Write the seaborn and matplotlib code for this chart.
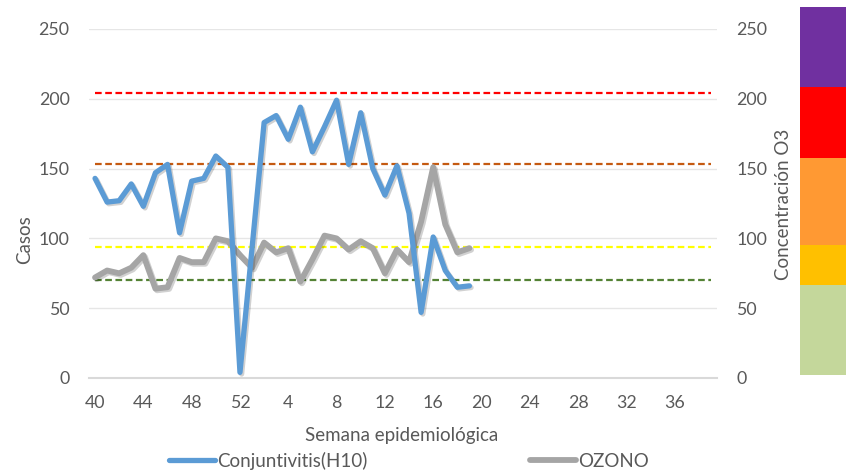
import matplotlib
matplotlib.use("Agg")
import matplotlib.pyplot as plt
import matplotlib.patheffects as pe
from matplotlib.lines import Line2D
import seaborn as sns
import pandas as pd
import numpy as np

# ---- data ----
weeks = list(range(40, 53)) + list(range(1, 40))
conjuntivitis = [143, 126, 127, 139, 123, 147, 153, 104, 141, 143, 159, 151, 4,
                 93, 183, 188, 171, 194, 162, 180, 199, 153, 190, 150, 131, 152,
                 118, 47, 101, 77, 65, 66]
ozono = [72, 77, 75, 79, 88, 64, 65, 86, 83, 83, 100, 98, 88,
         79, 97, 90, 93, 69, 85, 102, 100, 92, 98, 93, 75, 92, 83, 112,
         151, 110, 90, 93]
thresholds = [70, 94, 153, 204]
threshold_colors = ["#548235", "#FFFF00", "#C55A11", "#FF0000"]
band_bounds = [0, 65, 94, 157, 208, 266]
band_colors = ["#C4D79B", "#FFC000", "#FF9933", "#FF0000", "#7030A0"]

TXT = "#595959"
sns.set_theme(style="white")
plt.rcParams["font.family"] = ["Lato", "DejaVu Sans"]

W, H = 846, 476
fig = plt.figure(figsize=(W / 100, H / 100), dpi=100)
L, R, T, B = 89, 717, 29, 378
ax = fig.add_axes([L / W, 1 - B / H, (R - L) / W, (B - T) / H])

pos = list(range(len(weeks)))
df_c = pd.DataFrame({"pos": pos[:len(conjuntivitis)], "val": conjuntivitis})
df_o = pd.DataFrame({"pos": pos[:len(ozono)], "val": ozono})

# thresholds as constant series across all categories
for v, c in zip(thresholds, threshold_colors):
    dft = pd.DataFrame({"pos": pos, "val": [v] * len(pos)})
    sns.lineplot(data=dft, x="pos", y="val", ax=ax, color=c, lw=1.6,
                 dashes=False, zorder=2).lines[-1].set_dashes((3, 1.6))

shadow = [pe.SimpleLineShadow(offset=(1.2, -1.2), shadow_color="#000000", alpha=0.18), pe.Normal()]
sns.lineplot(data=df_c, x="pos", y="val", ax=ax, color="#5B9BD5", lw=3.8, zorder=4)
ax.lines[-1].set_path_effects(shadow)
ax.lines[-1].set_solid_joinstyle("round")
sns.lineplot(data=df_o, x="pos", y="val", ax=ax, color="#A5A5A5", lw=4.2, zorder=3)
ax.lines[-1].set_path_effects(shadow)
ax.lines[-1].set_solid_joinstyle("round")

ax.set_xlim(-0.5, len(weeks) - 0.5)
ax.set_ylim(0, 250)
ax.set_yticks([0, 50, 100, 150, 200, 250])
ax.set_xticks(pos[::4])
ax.set_xticklabels([str(w) for w in weeks[::4]])
ax.grid(axis="y", color="#E6E6E6", lw=1.0)
ax.grid(axis="x", visible=False)
for s in ["top", "right", "left"]:
    ax.spines[s].set_visible(False)
ax.spines["bottom"].set_color("#D9D9D9")
ax.spines["bottom"].set_linewidth(1.5)
ax.tick_params(axis="both", length=0, labelsize=12.8, labelcolor=TXT)
ax.tick_params(axis="y", pad=14)
ax.tick_params(axis="x", pad=12)
ax.set_xlabel("")
ax.set_ylabel("")

ax2 = ax.twinx()
ax2.set_ylim(0, 250)
ax2.set_yticks([0, 50, 100, 150, 200, 250])
ax2.tick_params(axis="y", length=0, labelsize=12.8, labelcolor=TXT, pad=14)
for s in ax2.spines.values():
    s.set_visible(False)
ax2.grid(False)

fig.text(402 / W, 1 - 435 / H, "Semana epidemiológica", ha="center", va="center",
         fontsize=13.5, color=TXT)
fig.text(25 / W, 1 - 240 / H, "Casos", ha="center", va="center", rotation=90,
         fontsize=13.5, color=TXT)
fig.text(783 / W, 1 - 204 / H, "Concentración O3", ha="center", va="center",
         rotation=90, fontsize=13.5, color=TXT)

# colour scale bar
axb = fig.add_axes([800 / W, 1 - 375 / H, 46 / W, (375 - 7) / H])
for i, c in enumerate(band_colors):
    axb.bar(0, band_bounds[i + 1] - band_bounds[i], bottom=band_bounds[i],
            width=1, color=c, edgecolor="none")
axb.set_xlim(-0.5, 0.5)
axb.set_ylim(band_bounds[0], band_bounds[-1])
axb.axis("off")

handles = [Line2D([0], [0], color="#5B9BD5", lw=3.8),
           Line2D([0], [0], color="#A5A5A5", lw=4.2)]
fig.legend(handles, ["Conjuntivitis(H10)", "OZONO"], loc="center",
           bbox_to_anchor=(409 / W, 1 - 461 / H), ncol=2, frameon=False,
           fontsize=13.5, labelcolor=TXT, handlelength=2.45, handletextpad=0.1,
           columnspacing=8.7, borderpad=0)

fig.savefig("out.png", dpi=100)
